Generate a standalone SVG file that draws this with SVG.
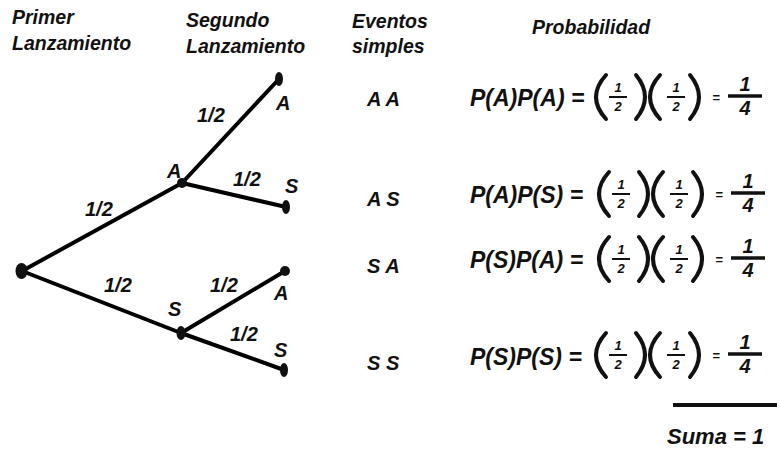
<svg xmlns="http://www.w3.org/2000/svg" width="780" height="450" viewBox="0 0 780 450">
<style>
text{font-family:"Liberation Sans",Arial,sans-serif;font-weight:bold;font-style:italic;fill:#111}
.h{font-size:19.5px}
.l{font-size:20px}
.e{font-size:20px}
.f{font-size:23px}
.fr{font-size:13px}
.q{font-size:22px}
.edge{stroke:#000;stroke-width:4;stroke-linecap:round;fill:none}
.par{fill:none;stroke:#111;stroke-width:4;stroke-linecap:round}
.bar{stroke:#111;stroke-width:2}
.bar4{stroke:#111;stroke-width:3.5}
</style>
<defs>
<g id="frac12">
<text class="fr" x="0" y="-5" text-anchor="middle">1</text>
<line class="bar" x1="-9" y1="0" x2="9" y2="0"/>
<text class="fr" x="0" y="14" text-anchor="middle">2</text>
</g>
<g id="formulaTail">
<path class="par" d="M14,-22 Q-6,0 14,22"/>
<use href="#frac12" x="26" y="0"/>
<path class="par" d="M44,-22 Q62,0 44,22"/>
<path class="par" d="M68,-22 Q48,0 68,22"/>
<use href="#frac12" x="84" y="0"/>
<path class="par" d="M98,-22 Q116,0 98,22"/>
<text x="124" y="5" font-size="13" text-anchor="middle">=</text>
<text x="153" y="-6" font-size="20" text-anchor="middle">1</text>
<line class="bar4" x1="136" y1="-1" x2="170" y2="-1"/>
<text x="153" y="18" font-size="20" text-anchor="middle">4</text>
</g>
</defs>

<g id="headers">
<text class="h" x="12" y="24">Primer</text>
<text class="h" x="12" y="50">Lanzamiento</text>
<text class="h" x="186" y="27">Segundo</text>
<text class="h" x="186" y="53">Lanzamiento</text>
<text class="h" x="352" y="28">Eventos</text>
<text class="h" x="352" y="53">simples</text>
<text class="h" x="532" y="34">Probabilidad</text>
</g>

<g id="connectors">
<line class="edge" x1="22" y1="271" x2="182" y2="183"/>
<line class="edge" x1="22" y1="271" x2="181" y2="333"/>
<line class="edge" x1="182" y1="183" x2="279" y2="79"/>
<line class="edge" x1="182" y1="183" x2="286" y2="207"/>
<line class="edge" x1="181" y1="333" x2="285" y2="271"/>
<line class="edge" x1="181" y1="333" x2="284" y2="370"/>
<text class="l" x="85" y="216">1/2</text>
<text class="l" x="104" y="292">1/2</text>
<text class="l" x="197" y="122">1/2</text>
<text class="l" x="233" y="186">1/2</text>
<text class="l" x="210" y="292">1/2</text>
<text class="l" x="230" y="341">1/2</text>
</g>

<g id="root"><ellipse cx="21.5" cy="271" rx="6" ry="8" fill="#111"/></g>
<g id="nodeA1"><ellipse cx="182" cy="183" rx="5" ry="5" fill="#111"/><text class="l" x="167" y="178">A</text></g>
<g id="nodeS1"><ellipse cx="181" cy="333" rx="4.5" ry="7" fill="#111"/><text class="l" x="168" y="316">S</text></g>
<g id="leafAA"><ellipse cx="279" cy="79" rx="4" ry="7" fill="#111"/><text class="l" x="276" y="110">A</text></g>
<g id="leafAS"><ellipse cx="286" cy="207" rx="4" ry="7" fill="#111"/><text class="l" x="285" y="193">S</text></g>
<g id="leafSA"><ellipse cx="285" cy="271" rx="5" ry="5" fill="#111"/><text class="l" x="274" y="300">A</text></g>
<g id="leafSS"><ellipse cx="284" cy="370" rx="4" ry="7" fill="#111"/><text class="l" x="274" y="357">S</text></g>

<g id="events">
<text class="e" x="367" y="106">A A</text>
<text class="e" x="367" y="206">A S</text>
<text class="e" x="367" y="273">S A</text>
<text class="e" x="367" y="370">S S</text>
</g>

<g id="prob1">
<text class="f" x="470" y="106">P(A)P(A) =</text>
<use href="#formulaTail" x="592" y="97"/>
</g>
<g id="prob2">
<text class="f" x="470" y="203">P(A)P(S) =</text>
<use href="#formulaTail" x="595" y="194"/>
</g>
<g id="prob3">
<text class="f" x="470" y="268">P(S)P(A) =</text>
<use href="#formulaTail" x="595" y="259"/>
</g>
<g id="prob4">
<text class="f" x="470" y="365">P(S)P(S) =</text>
<use href="#formulaTail" x="592" y="355"/>
</g>

<g id="sum">
<line x1="673" y1="405" x2="777" y2="405" stroke="#111" stroke-width="4"/>
<text class="q" x="667" y="444">Suma = 1</text>
</g>
</svg>
